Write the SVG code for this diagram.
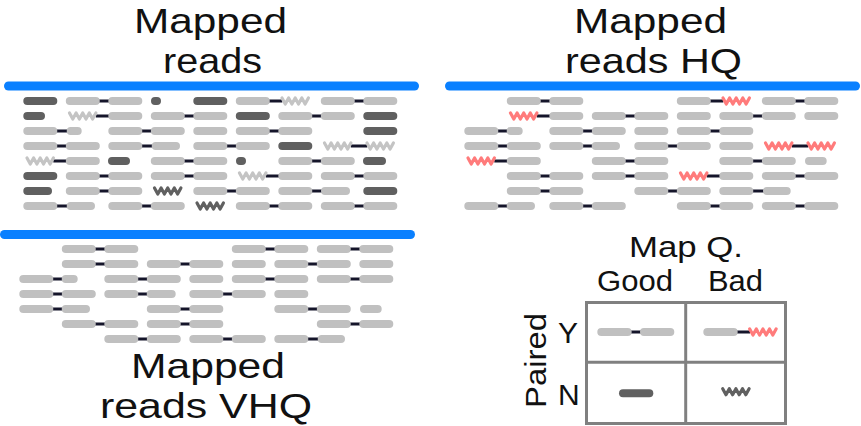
<svg xmlns="http://www.w3.org/2000/svg" xmlns:xlink="http://www.w3.org/1999/xlink" width="861" height="426" viewBox="0 0 861 426">
<style>
.t{font-family:"Liberation Sans",Arial,sans-serif;fill:#111;}
.t40{font-size:35px;}
.t30{font-size:30px;}
.blue{stroke:#0a80ff;stroke-width:9;stroke-linecap:round;}
.c{stroke:#15152a;stroke-width:3;fill:none;}
.l{stroke:#c0c0c0;stroke-width:8;stroke-linecap:round;fill:none;}
.d{stroke:#606060;stroke-width:8;stroke-linecap:round;fill:none;}
.w{fill:none;stroke-width:3.2;stroke-linejoin:round;stroke-linecap:round;}
.wl{stroke:#c4c4c4;}
.wd{stroke:#606060;}
.wr{stroke:#ff7b7b;}
.grid{fill:none;stroke:#808080;stroke-width:3;}
</style>
<defs>
<path id="wave" d="M0.5,-3 l3.3,6 3.3,-6 3.3,6 3.3,-6 3.3,6 3.3,-6 3.3,6 3.3,-6"/>
</defs>

<g id="title-mapped">
<text class="t t40" x="134" y="33" textLength="153" lengthAdjust="spacingAndGlyphs">Mapped</text>
<text class="t t40" x="163" y="73" textLength="99" lengthAdjust="spacingAndGlyphs">reads</text>
</g>
<g id="title-hq">
<text class="t t40" x="574" y="33" textLength="153" lengthAdjust="spacingAndGlyphs">Mapped</text>
<text class="t t40" x="565" y="73" textLength="177" lengthAdjust="spacingAndGlyphs">reads HQ</text>
</g>
<g id="title-vhq">
<text class="t t40" x="131" y="378" textLength="154" lengthAdjust="spacingAndGlyphs">Mapped</text>
<text class="t t40" x="100" y="418" textLength="212" lengthAdjust="spacingAndGlyphs">reads VHQ</text>
</g>

<g id="panel-lines">
<line class="blue" x1="8.5" y1="86" x2="414.5" y2="86"/>
<line class="blue" x1="449.5" y1="86" x2="855.5" y2="86"/>
<line class="blue" x1="4.5" y1="234.5" x2="410.5" y2="234.5"/>
</g>

<g id="mapped-reads" transform="translate(23.3,0)">
<path class="c" d="M72.5 101H89M242.5 101H259M327.5 101H344 M72.5 116H89M157.5 116H174M285 116H301.5 M30 131H46.5M115 131H131.5M242.5 131H259 M30 146H46.5M115 146H131.5M200 146H216.5M327.5 146H344 M30 161H46.5M157.5 161H174M285 161H301.5 M72.5 176H89M157.5 176H174M242.5 176H259M327.5 176H344 M72.5 191H89M200 191H216.5M285 191H301.5 M30 206H46.5M115 206H131.5M242.5 206H259M327.5 206H344"/>
<path class="l" d="M46.5 101H72.5M89 101H115M216.5 101H242.5M301.5 101H327.5M344 101H370 M89 116H115M131.5 116H157.5M174 116H200M259 116H285M301.5 116H327.5 M4 131H30M47.4 131H54.4M89 131H115M131.5 131H157.5M174 131H200M216.5 131H242.5M259 131H285 M4 146H30M46.5 146H72.5M89 146H115M132.4 146H152.7M174 146H200M216.5 146H242.5 M46.5 161H72.5M131.5 161H157.5M174 161H200M259 161H285M301.5 161H327.5 M46.5 176H72.5M89 176H115M131.5 176H157.5M174 176H200M259 176H285M301.5 176H327.5M344 176H370 M46.5 191H72.5M89 191H115M174 191H200M216.5 191H242.5M259 191H285M301.7 191H322.7 M4 206H30M47.4 206H67.7M89 206H115M131.5 206H157.5M216.5 206H242.5M259 206H285M301.5 206H327.5M344 206H370"/>
<path class="d" d="M4 101H30M131.7 101H133.7M174 101H200 M4 116H17.7M216.5 116H242.5M344 116H370 M344 131H370 M259 146H285 M88.7 161H102.7M216.7 161H218.7M343.7 161H358.7 M4 176H30 M4 191H24.7M344 191H370"/>
<use xlink:href="#wave" class="w wl" x="258.2" y="101"/>
<use xlink:href="#wave" class="w wl" x="45.7" y="116"/>
<use xlink:href="#wave" class="w wl" x="300.7" y="146"/>
<use xlink:href="#wave" class="w wl" x="343.2" y="146"/>
<use xlink:href="#wave" class="w wl" x="3.2" y="161"/>
<use xlink:href="#wave" class="w wl" x="215.7" y="176"/>
<use xlink:href="#wave" class="w wd" x="130.7" y="191"/>
<use xlink:href="#wave" class="w wd" x="173.2" y="206"/>
</g>

<g id="mapped-reads-hq" transform="translate(464.3,0)">
<path class="c" d="M72.5 101H89M242.5 101H259M327.5 101H344 M72.5 116H89M157.5 116H174M285 116H301.5 M30 131H46.5M115 131H131.5M242.5 131H259 M30 146H46.5M115 146H131.5M200 146H216.5M327.5 146H344 M30 161H46.5M157.5 161H174M285 161H301.5 M72.5 176H89M157.5 176H174M242.5 176H259M327.5 176H344 M72.5 191H89M200 191H216.5M285 191H301.5 M30 206H46.5M115 206H131.5M242.5 206H259M327.5 206H344"/>
<path class="l" d="M46.5 101H72.5M89 101H115M216.5 101H242.5M301.5 101H327.5M344 101H370 M89 116H115M131.5 116H157.5M174 116H200M216.5 116H242.5M259 116H285M301.5 116H327.5M344 116H370 M4 131H30M46.4 131H54.4M89 131H115M131.5 131H157.5M174 131H200M216.5 131H242.5M259 131H285 M4 146H30M46.5 146H72.5M89 146H115M131.4 146H151.7M174 146H200M216.5 146H242.5M259 146H285 M46.5 161H72.5M131.5 161H157.5M174 161H200M259 161H285M301.5 161H327.5M344.7 161H358.4 M46.5 176H72.5M89 176H115M131.5 176H157.5M174 176H200M259 176H285M301.5 176H327.5M344 176H370 M46.5 191H72.5M89 191H115M174 191H200M216.5 191H242.5M259 191H285M302.7 191H322.4 M4 206H30M46.4 206H66.7M89 206H115M131.5 206H157.5M216.5 206H242.5M259 206H285M301.5 206H327.5M344 206H370"/>
<use xlink:href="#wave" class="w wr" x="258.2" y="101"/>
<use xlink:href="#wave" class="w wr" x="45.7" y="116"/>
<use xlink:href="#wave" class="w wr" x="300.7" y="146"/>
<use xlink:href="#wave" class="w wr" x="343.2" y="146"/>
<use xlink:href="#wave" class="w wr" x="3.2" y="161"/>
<use xlink:href="#wave" class="w wr" x="215.7" y="176"/>
</g>

<g id="mapped-reads-vhq" transform="translate(19.3,0)">
<path class="c" d="M72.5 249H89M242.5 249H259M327.5 249H344 M72.5 264H89M157.5 264H174M285 264H301.5 M30 279H46.5M115 279H131.5M242.5 279H259M327.5 279H344 M30 294H46.5M115 294H131.5M200 294H216.5 M30 309H46.5M157.5 309H174M285 309H301.5 M72.5 324H89M157.5 324H174M327.5 324H344 M115 339H131.5M200 339H216.5M285 339H301.5"/>
<path class="l" d="M46.5 249H72.5M89 249H115M216.5 249H242.5M259 249H285M301.5 249H327.5M344 249H370 M46.5 264H72.5M89 264H115M131.5 264H157.5M174 264H200M216.5 264H242.5M259 264H285M301.5 264H327.5M344 264H370 M4 279H30M46.4 279H54.4M89 279H115M131.5 279H157.5M174 279H200M216.5 279H242.5M259 279H285M301.5 279H327.5M344 279H370 M4 294H30M46.5 294H72.5M89 294H115M131.4 294H152.4M174 294H200M216.5 294H242.5M259 294H285 M4 309H30M46.4 309H66.7M131.5 309H157.5M174 309H200M259 309H285M301.5 309H327.5M344.7 309H358.4 M46.5 324H72.5M89 324H115M131.5 324H157.5M174 324H200M301.5 324H327.5M344 324H370 M89 339H115M131.5 339H157.5M174 339H200M216.5 339H242.5M259 339H285M302.4 339H321.7"/>
</g>

<g id="legend">
<text class="t t30" x="629" y="257" textLength="114" lengthAdjust="spacingAndGlyphs">Map Q.</text>
<text class="t t30" x="597" y="291" textLength="76" lengthAdjust="spacingAndGlyphs">Good</text>
<text class="t t30" x="708" y="291" textLength="55" lengthAdjust="spacingAndGlyphs">Bad</text>
<text class="t t30" transform="translate(546,408) rotate(-90)" x="0" y="0" textLength="95" lengthAdjust="spacingAndGlyphs">Paired</text>
<text class="t t30" x="558" y="343">Y</text>
<text class="t t30" x="558" y="405">N</text>
<rect class="grid" x="586.5" y="302.5" width="199" height="121"/>
<line class="grid" x1="685.7" y1="302.5" x2="685.7" y2="423.5"/>
<line class="grid" x1="586.5" y1="362.3" x2="785.5" y2="362.3"/>
<path class="c" d="M627.7 332H644M733.7 332H750"/>
<path class="l" d="M601.3 332H627.7M644 332H670.3M707.3 332H733.7"/>
<use xlink:href="#wave" class="w wr" x="749.2" y="332"/>
<path class="d" d="M623 393.3H649.3"/>
<use xlink:href="#wave" class="w wd" x="722.2" y="391.7"/>
</g>
</svg>
